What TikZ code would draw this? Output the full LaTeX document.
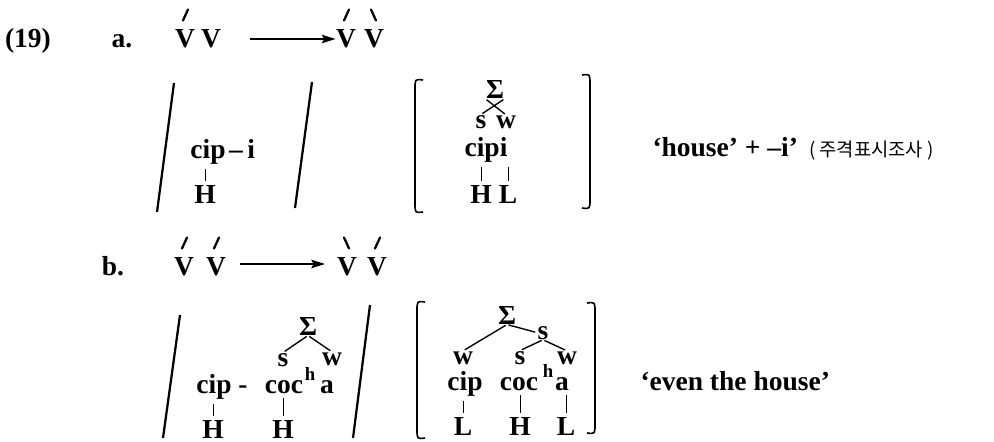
\documentclass[tikz,border=0pt]{standalone}
\usepackage{fontspec}
\setmainfont{Liberation Serif}
\newfontfamily\hangul{Noto Sans CJK KR}
\usetikzlibrary{arrows.meta}

\begin{document}
\begin{tikzpicture}[x=0.4pt,y=-0.4pt,
  lbl/.style={inner sep=0pt,anchor=base,font=\fontsize{11}{13}\selectfont\bfseries},
  sup/.style={lbl,font=\fontsize{7.5}{9}\selectfont\bfseries},
  tn/.style={line width=0.35pt,shorten <=1.7pt,shorten >=1.4pt},
  tr/.style={line width=0.55pt,shorten <=0.6pt,shorten >=0.8pt},
  br/.style={line width=0.65pt},
  sl/.style={line width=0.9pt},
  ac/.style={line width=0.9pt,line cap=round},
  arr/.style={line width=0.6pt,-{Stealth[length=5.5pt,width=3.4pt,inset=1pt]}}]
\useasboundingbox (0,0) rectangle (994,441);

% a.  stress shift
\node[lbl] (num) at (28,47) {(19)};
\node[lbl] (la) at (122,47) {a.};
\node[lbl] (v1a) at (185,47) {V};
\node[lbl] (v2a) at (211,47) {V};
\node[lbl] (v3a) at (346,47) {V};
\node[lbl] (v4a) at (374,47) {V};
\coordinate (aa) at (250,39);
\draw[arr] (aa) -- (v3a.west |- aa);

\draw[sl] (174,83) -- (157,212);
\draw[sl] (312,82) -- (295,208);
\node[lbl] (cipA) at (208,158) {cip};
\node[lbl,anchor=base west] (iA) at ([xshift=1]cipA.base east) {–\,i};
\node[lbl] (hA) at (205,203) {H};
\draw[tn] (hA.north |- cipA.south) -- (hA.north);

\draw[br] (423,80) .. controls (415,79) .. (415,89) -- (415,203) .. controls (415,213) .. (423,212);
\draw[br] (582,75) .. controls (590,74) .. (590,84) -- (590,199) .. controls (590,209) .. (582,208);
\node[lbl] (sgA) at (495,98) {Σ};
\node[lbl] (sA) at (481,128) {s};
\node[lbl] (wA) at (506,128) {w};
\node[lbl] (cipiA) at (486,156) {cipi};
\node[lbl] (hA2) at (481,203) {H};
\node[lbl] (lA) at (508,203) {L};
\draw[tr] (sA.north) -- ([xshift=4]sgA.south);
\draw[tr] (wA.north) -- ([xshift=-4]sgA.south);
\foreach \t in {hA2,lA}
  \draw[tn] (\t.north |- cipiA.south) -- (\t.north);
\node[lbl,anchor=base west] (glA) at (652,156)
  {‘house’ + –i’ {\hangul\mdseries\fontsize{7.5}{9}\selectfont\ ( 주격표시조사 )}};

% b.
\node[lbl] (lb) at (113,275) {b.};
\node[lbl] (v1b) at (184,275) {V};
\node[lbl] (v2b) at (216,275) {V};
\node[lbl] (v3b) at (347,275) {V};
\node[lbl] (v4b) at (377,275) {V};
\coordinate (ab) at (240,264);
\coordinate (ab2) at (325,264);
\draw[arr] (ab) -- (ab2);

\draw[sl] (180,315) -- (163,438);
\draw[sl] (370,305) -- (353,438);
\node[lbl] (sgB) at (308,335) {Σ};
\node[lbl] (sB) at (283,366) {s};
\node[lbl] (wB) at (332,365) {w};
\node[lbl] (cipB) at (214,393) {cip};
\node[lbl] (dB) at (243,393) {-};
\node[lbl] (cocB) at (284,393) {coc};
\node[sup] (hB) at (310,380) {h};
\node[lbl] (aB) at (327,393) {a};
\node[lbl] (hB1) at (213,438) {H};
\node[lbl] (hB2) at (283,438) {H};
\draw[tr] (sgB.south) -- (sB.north);
\draw[tr] (sgB.south) -- (wB.north);
\draw[tn] (hB1.north |- cipB.south) -- (hB1.north);
\draw[tn] (hB2.north |- cocB.south) -- (hB2.north);

\draw[br] (425,302) .. controls (417,301) .. (417,311) -- (417,429) .. controls (417,439) .. (425,438);
\draw[br] (587,303) .. controls (595,302) .. (595,312) -- (595,424) .. controls (595,434) .. (587,433);
\node[lbl] (sgB2) at (507,324) {Σ};
\node[lbl] (sB1) at (543,339) {s};
\node[lbl] (wB0) at (463,364) {w};
\node[lbl] (sB2) at (520,364) {s};
\node[lbl] (wB2) at (567,364) {w};
\node[lbl] (cipB2) at (465,390) {cip};
\node[lbl] (cocB2) at (519,390) {coc};
\node[sup] (hB3) at (548,377) {h};
\node[lbl] (aB2) at (562,390) {a};
\node[lbl] (lB1) at (463,435) {L};
\node[lbl] (hB4) at (520,435) {H};
\node[lbl] (lB2) at (566,435) {L};
\draw[tr] (sgB2.south) -- (wB0.north);
\draw[tr] (sgB2.south) -- (sB1.west);
\draw[tr] (sB1.south) -- (sB2.north);
\draw[tr] (sB1.south) -- (wB2.north);
\draw[tn] (lB1.north |- cipB2.south) -- (lB1.north);
\draw[tn] (hB4.north |- cocB2.south) -- (hB4.north);
\draw[tn] (lB2.north |- aB2.south) -- (lB2.north);
\node[lbl,anchor=base west] (glB) at (640,390) {‘even the house’};

% stress marks over the vowels
\foreach \v/\d in {v1a/1,v3a/1,v4a/-1,v1b/1,v2b/1,v3b/-1,v4b/1}
  \draw[ac] ([shift={(-2*\d,-8)}]\v.north) -- ++(5*\d,-11);
\end{tikzpicture}
\end{document}
